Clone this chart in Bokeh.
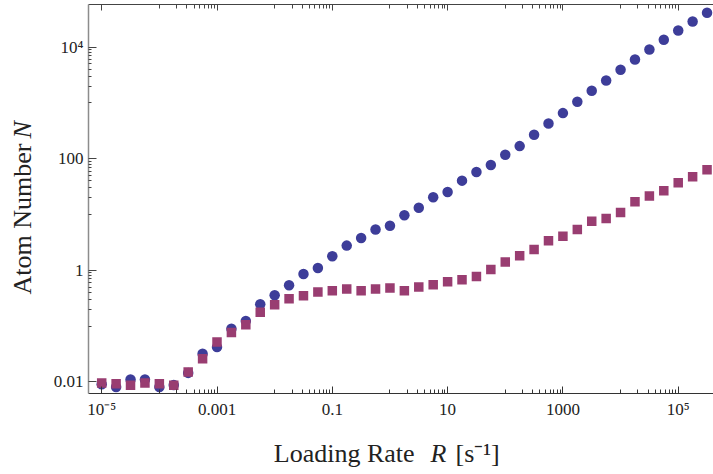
from bokeh.plotting import figure
from bokeh.models import FixedTicker, LogAxis, Label, Range1d
from bokeh.layouts import row, column
from bokeh.embed import file_html
from bokeh.resources import INLINE

# Loading rate R [1/s] (quarter-decade steps)
R = [1e-05, 1.778e-05, 3.162e-05, 5.623e-05, 1e-04, 1.778e-04, 3.162e-04, 5.623e-04,
     1e-03, 1.778e-03, 3.162e-03, 5.623e-03, 1e-02, 1.778e-02, 3.162e-02, 5.623e-02,
     0.1, 0.1778, 0.3162, 0.5623, 1.0, 1.778, 3.162, 5.623,
     10.0, 17.78, 31.62, 56.23, 100.0, 177.8, 316.2, 562.3,
     1000.0, 1778.0, 3162.0, 5623.0, 1e4, 17783.0, 31623.0, 56234.0,
     1e5, 177828.0, 316228.0]

N_circle = [0.0091, 0.0081, 0.011, 0.011, 0.0081, 0.0088, 0.0145, 0.032,
            0.042, 0.09, 0.124, 0.246, 0.356, 0.54, 0.86, 1.1,
            1.78, 2.77, 3.8, 5.4, 6.3, 9.7, 13.2, 20.3,
            25.2, 40.4, 57.6, 76.9, 118, 168, 269, 428,
            656, 1050, 1650, 2520, 3920, 6000, 9060, 13500,
            19800, 28700, 41100]

N_square = [0.0096, 0.0093, 0.0087, 0.0096, 0.0093, 0.0087, 0.015, 0.026,
            0.052, 0.077, 0.106, 0.177, 0.24, 0.31, 0.35, 0.41,
            0.43, 0.46, 0.43, 0.46, 0.48, 0.43, 0.50, 0.55,
            0.62, 0.68, 0.77, 1.03, 1.41, 1.83, 2.35, 3.4,
            4.06, 5.36, 7.54, 8.43, 10.8, 17.0, 21.4, 26.7,
            37.2, 47.6, 63.5]

x_major = [1e-05, 1e-03, 0.1, 10, 1000, 1e5]
x_major_labels = ["10\u207b\u2075", "0.001", "0.1", "10", "1000", "10\u2075"]
x_minor = [1e-04, 2e-04, 3e-04, 4e-04, 5e-04, 6e-04, 7e-04, 8e-04, 9e-04,
           0.01, 0.02, 0.03, 0.04, 0.05, 0.06, 0.07, 0.08, 0.09,
           1, 2, 3, 4, 5, 6, 7, 8, 9,
           100, 200, 300, 400, 500, 600, 700, 800, 900,
           1e4, 2e4, 3e4, 4e4, 5e4, 6e4, 7e4, 8e4, 9e4]

y_major = [0.01, 1, 100, 10000]
y_major_labels = ["0.01", "1", "100", "10\u2074"]
y_minor = [0.1, 0.2, 0.3, 0.4, 0.5, 0.6, 0.7, 0.8, 0.9,
           10, 20, 30, 40, 50, 60, 70, 80, 90,
           1000, 2000, 3000, 4000, 5000, 6000, 7000, 8000, 9000]

FONT = "Liberation Serif"
BLUE = "#3D3D99"
PURPLE = "#993D71"
TXT = "#222222"

LEFT_W = 45
MAIN_W = 713 - LEFT_W
MAIN_H = 423
BOTTOM_H = 49
TOTAL_H = MAIN_H + BOTTOM_H
FRAME_LEFT = 88       # page x of the plot frame's left edge
SHIFT = 10            # text box centre vs. baseline

p = figure(width=MAIN_W, height=MAIN_H, x_axis_type="log", y_axis_type="log",
           x_range=Range1d(10 ** -5.229, 10 ** 5.612),
           y_range=Range1d(10 ** -2.208, 10 ** 4.763),
           output_backend="svg", toolbar_location=None,
           min_border_left=FRAME_LEFT - LEFT_W, min_border_right=0, min_border_top=4,
           min_border_bottom=MAIN_H - 393)
p.xgrid.visible = False
p.ygrid.visible = False
p.outline_line_color = None
p.background_fill_color = "white"
p.border_fill_color = "white"

xa = p.xaxis[0]
xa.ticker = FixedTicker(ticks=x_major, minor_ticks=x_minor)
xa.major_label_overrides = dict(zip(x_major, x_major_labels))
xa.axis_line_color = "#333333"
xa.axis_line_width = 1.2
xa.major_tick_in = 7
xa.major_tick_out = 0
xa.minor_tick_in = 4
xa.minor_tick_out = 0
xa.major_tick_line_color = "#333333"
xa.minor_tick_line_color = "#333333"
xa.major_label_text_font = FONT
xa.major_label_text_font_size = "17px"
xa.major_label_text_color = TXT
xa.major_label_standoff = 6

ya = p.yaxis[0]
ya.ticker = FixedTicker(ticks=y_major, minor_ticks=y_minor)
ya.major_label_overrides = dict(zip(y_major, y_major_labels))
ya.axis_line_color = "#8c8c8c"
ya.axis_line_width = 1.5
ya.major_tick_in = 8
ya.major_tick_out = 0
ya.minor_tick_in = 3
ya.minor_tick_out = 0
ya.major_tick_line_color = "#444444"
ya.minor_tick_line_color = "#444444"
ya.major_label_text_font = FONT
ya.major_label_text_font_size = "17px"
ya.major_label_text_color = TXT
ya.major_label_standoff = 5

top = LogAxis(ticker=FixedTicker(ticks=x_major, minor_ticks=x_minor),
              major_label_overrides={t: "" for t in x_major},
              major_label_text_font_size="1px", major_label_standoff=0,
              axis_line_color="#444444", axis_line_width=1.2,
              major_tick_in=6, major_tick_out=0, minor_tick_in=4, minor_tick_out=0,
              major_tick_line_color="#444444", minor_tick_line_color="#444444")
p.add_layout(top, "above")

p.scatter(R, N_circle, marker="circle", size=10.5, fill_color=BLUE, line_color=None)
p.scatter(R, N_square, marker="square", size=9.5, fill_color=PURPLE, line_color=None)


def title_fig(w, h):
    f = figure(width=w, height=h, x_axis_type=None, y_axis_type=None,
               x_range=Range1d(0, 1), y_range=Range1d(0, 1),
               output_backend="svg", toolbar_location=None, min_border=0)
    f.outline_line_color = None
    f.background_fill_color = "white"
    f.border_fill_color = "white"
    return f


def lab(f, text, x, y, angle=0, style="normal"):
    f.add_layout(Label(x=x, y=y, x_units="screen", y_units="screen", text=text,
                       angle=angle, text_font=FONT, text_font_size="26px",
                       text_font_style=style, text_color=TXT,
                       text_align="left", text_baseline="alphabetic"))


# x title (its frame is aligned with the main plot's frame)
fb = title_fig(MAIN_W, BOTTOM_H)
base_y = TOTAL_H - (462.7 - SHIFT)
lab(fb, "Loading Rate", 273.3 - FRAME_LEFT, base_y)
lab(fb, "R", 430 - FRAME_LEFT, base_y, style="italic")
lab(fb, "[s\u207b\u00b9]", 455 - FRAME_LEFT, base_y)

# y title
fl = title_fig(LEFT_W, TOTAL_H)
lab(fl, "Atom Number", 32.3 - SHIFT, TOTAL_H - 294, angle=1.5708)
lab(fl, "N", 32.3 - SHIFT, TOTAL_H - 138, angle=1.5708, style="italic")

layout = row(fl, column(p, fb))
open("out.html", "w").write(file_html(layout, INLINE))
